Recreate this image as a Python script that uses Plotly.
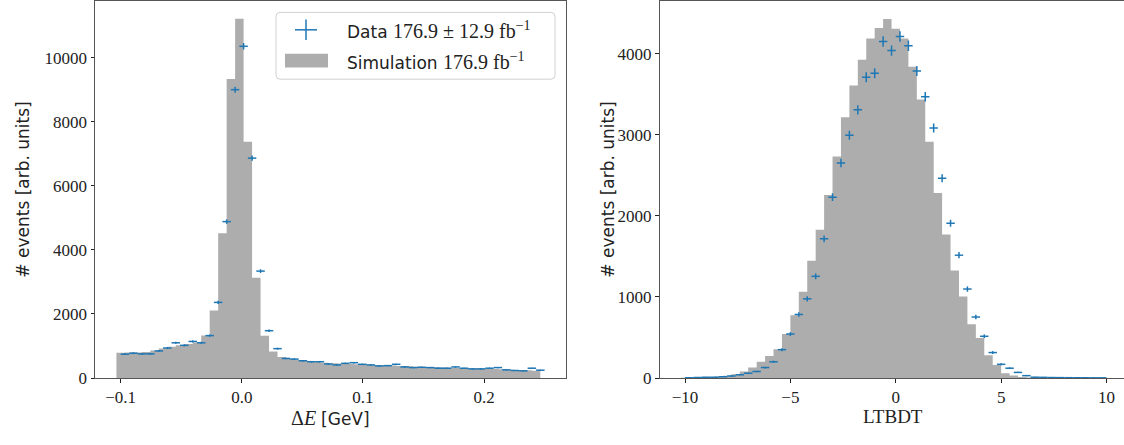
import numpy as np
import plotly.graph_objects as go

W, H = 1124, 445

# ---------------- data: Delta E histogram ----------------
de_lo, de_hi, de_nbins = -0.1, 0.25, 50
de_sim = [790, 800, 800, 810, 860, 920, 980, 1020, 1060, 1110,
          1330, 2110, 4520, 9340, 11220, 7380, 3130, 1320, 830, 660,
          600, 560, 530, 510, 480, 460, 450, 440, 430, 420,
          405, 395, 390, 375, 365, 355, 345, 335, 325, 320,
          310, 300, 295, 290, 280, 270, 260, 250, 240, 230]
de_data = [745, 775, 754, 754, 846, 937, 1100, 1020, 1142, 1100,
           1325, 2363, 4886, 9008, 10363, 6870, 3340, 1478, 917, 611,
           591, 540, 509, 509, 438, 408, 458, 479, 428, 408,
           377, 387, 428, 346, 326, 336, 326, 306, 306, 346,
           306, 285, 285, 306, 326, 255, 234, 224, 306, 244]

# ---------------- data: LTBDT histogram ----------------
bdt_lo, bdt_hi, bdt_nbins = -10.0, 10.0, 50
bdt_sim = [3, 5, 8, 12, 18, 28, 45, 80, 129, 201,
           273, 354, 543, 775, 1065, 1447, 1829, 2260, 2734, 3217,
           3611, 3929, 4190, 4321, 4431, 4311, 4190, 3840, 3438, 2915,
           2284, 1770, 1327, 1006, 664, 495, 282, 161, 60, 30,
           12, 5, 3, 2, 1, 1, 0, 0, 0, 0]
bdt_data = [3, 5, 8, 10, 16, 25, 40, 60, 80, 129,
            200, 350, 543, 784, 977, 1255, 1718, 2232, 2654, 2996,
            3310, 3712, 3760, 4154, 4041, 4215, 4101, 3788, 3470, 3084,
            2465, 1910, 1516, 1098, 753, 515, 314, 169, 121, 69,
            29, 10, 8, 6, 5, 4, 3, 3, 2, 2]

# ---------------- tick labels ----------------
de_xticks = [-0.1, 0.0, 0.1, 0.2]
de_xticklabels = ["\u22120.1", "0.0", "0.1", "0.2"]
de_yticks = [0, 2000, 4000, 6000, 8000, 10000]
de_yticklabels = ["0", "2000", "4000", "6000", "8000", "10000"]
bdt_xticks = [-10, -5, 0, 5, 10]
bdt_xticklabels = ["\u221210", "\u22125", "0", "5", "10"]
bdt_yticks = [0, 1000, 2000, 3000, 4000]
bdt_yticklabels = ["0", "1000", "2000", "3000", "4000"]

GRAY = "#adadad"
BLUE = "#1f77b4"
SERIF = "Liberation Serif"
SANS = "DejaVu Sans"


def add_hist(fig, lo, hi, n, sim, data, xa, ya):
    edges = np.linspace(lo, hi, n + 1)
    w = edges[1] - edges[0]
    centers = edges[:-1] + w / 2
    sim = np.asarray(sim, float)
    data = np.asarray(data, float)
    # simulation: filled step histogram, one bar of width w centred on each left bin edge
    sx = np.append(edges[:-1] - w / 2, edges[-2] + w / 2)
    sy = np.append(sim, sim[-1])
    sx = np.concatenate([[sx[0]], sx])
    sy = np.concatenate([[0.0], sy])
    sx = np.append(sx, sx[-1])
    sy = np.append(sy, 0.0)
    fig.add_trace(go.Scatter(x=sx, y=sy, mode="lines", line=dict(shape="hv", width=0, color=GRAY),
                             fill="toself", fillcolor=GRAY, xaxis=xa, yaxis=ya, hoverinfo="skip"))
    fig.add_trace(go.Scatter(x=centers, y=data, mode="markers",
                             marker=dict(size=1, color=BLUE),
                             error_x=dict(type="constant", value=w / 2, thickness=1.5, width=0, color=BLUE),
                             error_y=dict(type="data", array=np.sqrt(data), thickness=1.5, width=0, color=BLUE),
                             xaxis=xa, yaxis=ya, hoverinfo="skip"))


fig = go.Figure()
add_hist(fig, de_lo, de_hi, de_nbins, de_sim, de_data, "x", "y")
add_hist(fig, bdt_lo, bdt_hi, bdt_nbins, bdt_sim, bdt_data, "x2", "y2")

ydom = [(H - 386.7) / H, (H - 1) / H]
axcommon = dict(ticks="outside", ticklen=3.5, tickwidth=0.8, tickcolor="#222",
                showline=True, linecolor="#555", linewidth=1, showgrid=False, zeroline=False,
                tickfont=dict(family=SERIF, size=17, color="#222"))

fig.update_layout(
    width=W, height=H, margin=dict(l=0, r=0, t=0, b=0),
    paper_bgcolor="white", plot_bgcolor="white", showlegend=False,
    xaxis=dict(domain=[95 / W, 566 / W], range=[-0.1212, 0.2677], tickvals=de_xticks,
               ticktext=de_xticklabels, mirror=True, anchor="y", **axcommon),
    yaxis=dict(domain=ydom, range=[0, 11779], tickvals=de_yticks, ticktext=de_yticklabels,
               mirror=True, anchor="x", **axcommon),
    xaxis2=dict(domain=[659.5 / W, 1.0], range=[-11.21, 10.83], tickvals=bdt_xticks,
                ticktext=bdt_xticklabels, mirror=True, anchor="y2", **axcommon),
    yaxis2=dict(domain=ydom, range=[0, 4653], tickvals=bdt_yticks, ticktext=bdt_yticklabels,
                mirror=False, anchor="x2", **axcommon),
)


def px(x):
    return x / W


def py(y):
    return 1 - y / H


ann = []
# axis titles
ann.append(dict(text="# events [arb. units]", x=px(23), y=py(194), textangle=-90,
                font=dict(family=SANS, size=17, color="#222")))
ann.append(dict(text="# events [arb. units]", x=px(608), y=py(194), textangle=-90,
                font=dict(family=SANS, size=17, color="#222")))
ann.append(dict(text="\u0394<i>E</i> <span style='font-family:DejaVu Sans;font-size:17px'>[GeV]</span>",
                x=px(330), y=py(428), font=dict(family=SERIF, size=20, color="#222")))
ann.append(dict(text="LTBDT", x=px(893), y=py(426), font=dict(family=SERIF, size=19, color="#222")))

# legend texts
ann.append(dict(text="Data <span style='font-family:Liberation Serif;font-size:20px'>176.9 \u00b1 12.9 fb<sup>\u22121</sup></span>",
                x=px(345), y=py(31), xanchor="left", font=dict(family=SANS, size=17, color="#222")))
ann.append(dict(text="Simulation <span style='font-family:Liberation Serif;font-size:20px'>176.9 fb<sup>\u22121</sup></span>",
                x=px(345), y=py(62), xanchor="left", font=dict(family=SANS, size=17, color="#222")))
for a in ann:
    a.update(xref="paper", yref="paper", showarrow=False)
    a.setdefault("xanchor", "center")
    a.setdefault("yanchor", "middle")
fig.update_layout(annotations=ann)

# legend frame (rounded) and handles
x0, x1, y0, y1, r = 276, 555, 12.7, 81, 4
path = (f"M {px(x0 + r)},{py(y0)} L {px(x1 - r)},{py(y0)} Q {px(x1)},{py(y0)} {px(x1)},{py(y0 + r)} "
        f"L {px(x1)},{py(y1 - r)} Q {px(x1)},{py(y1)} {px(x1 - r)},{py(y1)} "
        f"L {px(x0 + r)},{py(y1)} Q {px(x0)},{py(y1)} {px(x0)},{py(y1 - r)} "
        f"L {px(x0)},{py(y0 + r)} Q {px(x0)},{py(y0)} {px(x0 + r)},{py(y0)} Z")
shapes = [
    dict(type="path", path=path, xref="paper", yref="paper", line=dict(color="#d0d0d0", width=1),
         fillcolor="rgba(255,255,255,0.8)"),
    dict(type="line", xref="paper", yref="paper", x0=px(295), x1=px(317), y0=py(30.5), y1=py(30.5),
         line=dict(color=BLUE, width=1.5)),
    dict(type="line", xref="paper", yref="paper", x0=px(306), x1=px(306), y0=py(20), y1=py(41),
         line=dict(color=BLUE, width=1.5)),
    dict(type="rect", xref="paper", yref="paper", x0=px(285), x1=px(328), y0=py(55), y1=py(69),
         line=dict(width=0), fillcolor=GRAY),
]
fig.update_layout(shapes=shapes)

fig.write_html("out.html")
